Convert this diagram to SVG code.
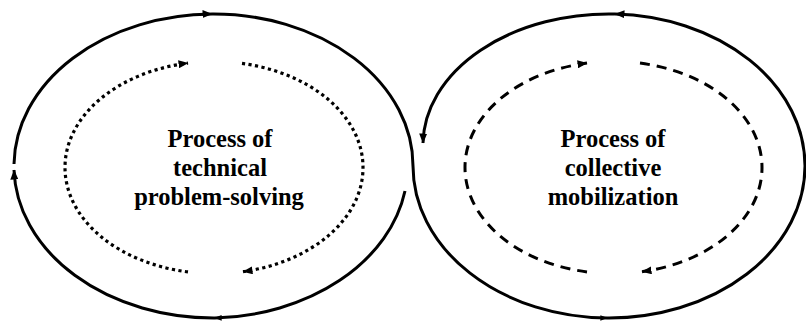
<svg xmlns="http://www.w3.org/2000/svg" width="806" height="322" viewBox="0 0 806 322">
  <style>
    .loop { fill: none; stroke: #000; stroke-width: 3; }
    .dotted { fill: none; stroke: #000; stroke-width: 3.2; stroke-dasharray: 3.2 3.4; }
    .dashed { fill: none; stroke: #000; stroke-width: 3; stroke-dasharray: 10 7; }
    .label { font-family: "Liberation Serif", "Times New Roman", serif; font-weight: bold; font-size: 24.5px; fill: #000; text-anchor: middle; }
  </style>
  <defs>
    <marker id="head" viewBox="0 0 10 8" refX="9.5" refY="4" markerWidth="10" markerHeight="8" markerUnits="userSpaceOnUse" orient="auto">
      <path d="M0,0 L10,4 L0,8 Z" fill="#000"/>
    </marker>
    <marker id="head-small" viewBox="0 0 10 8" refX="9.5" refY="4" markerWidth="7" markerHeight="5.6" markerUnits="userSpaceOnUse" orient="auto">
      <path d="M0,0 L10,4 L0,8 Z" fill="#000"/>
    </marker>
  </defs>

  <g id="connectors">
    <!-- left loop, upper half, then crossing into the lower side of the right loop -->
    <path class="loop" d="M14,164 A199.5,152 0 0 1 212,14" marker-end="url(#head)"/>
    <path class="loop" d="M212,14 A199.5,152 0 0 1 413,166 A196,152 0 0 0 607,318" marker-end="url(#head-small)"/>
    <path class="loop" d="M607,318 A196,152 0 0 0 805,166 A196,152 0 0 0 615,14" marker-end="url(#head)"/>
    <path class="loop" d="M615,14 A186,131 0 0 0 423,143" marker-end="url(#head)"/>
    <!-- left loop, lower half -->
    <path class="loop" d="M405,191 A199.5,152 0 0 1 215,318" marker-end="url(#head-small)"/>
    <path class="loop" d="M215,318 A199.5,152 0 0 1 14,170" marker-end="url(#head)"/>

    <!-- inner dotted cycle -->
    <path class="dotted" d="M188,271.9 A149,106 0 0 1 65,167.5 A149,106 0 0 1 188,63.1" marker-end="url(#head)"/>
    <path class="dotted" d="M242,63.4 A149,106 0 0 1 363,167.5 A149,106 0 0 1 243,271.7" marker-end="url(#head)"/>

    <!-- inner dashed cycle -->
    <path class="dashed" d="M587,271.9 A148.5,106 0 0 1 465,167.5 A148.5,106 0 0 1 587,63.1" marker-end="url(#head)"/>
    <path class="dashed" d="M640,63.1 A148.5,106 0 0 1 762,167.5 A148.5,106 0 0 1 642,271.7" marker-end="url(#head)"/>
  </g>

  <g id="technical">
    <text class="label" x="220" y="147">Process of</text>
    <text class="label" x="220" y="176">technical</text>
    <text class="label" x="219" y="205">problem-solving</text>
  </g>

  <g id="mobilization">
    <text class="label" x="613" y="147">Process of</text>
    <text class="label" x="613" y="176">collective</text>
    <text class="label" x="613" y="205">mobilization</text>
  </g>
</svg>
